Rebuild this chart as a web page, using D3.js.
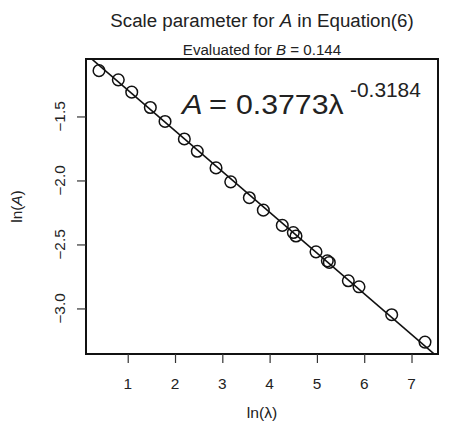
<!DOCTYPE html>
<html>
<head>
<meta charset="utf-8">
<script src="https://cdn.jsdelivr.net/npm/d3@7"></script>
<style>
  body { margin: 0; background: #fff; }
  text { font-family: "Liberation Sans", Arial, sans-serif; fill: #222; }
</style>
</head>
<body>
<div id="chart"></div>
<script>
// observed points: ln(lambda), ln(A)
const lnLambda = [0.393, 0.801, 1.085, 1.478, 1.789, 2.197, 2.471, 2.867, 3.178, 3.571,
  3.867, 4.268, 4.501, 4.558, 4.981, 5.220, 5.262, 5.664, 5.890, 6.581, 7.285];
const lnA = [-1.142, -1.214, -1.310, -1.430, -1.539, -1.676, -1.772, -1.902, -2.011, -2.135,
  -2.232, -2.351, -2.407, -2.434, -2.558, -2.628, -2.641, -2.784, -2.831, -3.049, -3.263];

// fitted power law A = a * lambda^b
const coefA = 0.3773;
const expB = -0.3184;

const xTicks = [1, 2, 3, 4, 5, 6, 7];
const yTicks = [-1.5, -2.0, -2.5, -3.0];

const width = 451, height = 435;
const margin = { top: 59, right: 13, bottom: 81, left: 86 };

const svg = d3.select("#chart").append("svg")
  .attr("width", width).attr("height", height);

const x = d3.scaleLinear().domain([0.118, 7.56])
  .range([margin.left, width - margin.right]);
const y = d3.scaleLinear().domain([-3.356, -1.051])
  .range([height - margin.bottom, margin.top]);

// text helper: horizontally stretched text, like the source image
function label(px, py, html, size, sx, anchor, rot) {
  const g = svg.append("g")
    .attr("transform", `translate(${px},${py})` + (rot ? ` rotate(${rot})` : "") + ` scale(${sx},1)`);
  return g.append("text").attr("font-size", size)
    .attr("text-anchor", anchor || "middle").html(html);
}

svg.append("clipPath").attr("id", "clip")
  .append("rect")
  .attr("x", margin.left).attr("y", margin.top)
  .attr("width", width - margin.left - margin.right)
  .attr("height", height - margin.top - margin.bottom);

// fitted line
const xd = x.domain();
const fit = xd.map(v => [v, Math.log(coefA) + expB * v]);
svg.append("path")
  .attr("clip-path", "url(#clip)")
  .attr("d", d3.line().x(d => x(d[0])).y(d => y(d[1]))(fit))
  .attr("stroke", "#111").attr("stroke-width", 1.6).attr("fill", "none");

// points
svg.append("g").selectAll("circle")
  .data(lnLambda.map((v, i) => [v, lnA[i]]))
  .join("circle")
  .attr("cx", d => x(d[0])).attr("cy", d => y(d[1]))
  .attr("r", 5.8)
  .attr("fill", "none").attr("stroke", "#111").attr("stroke-width", 1.5);

// frame
svg.append("rect")
  .attr("x", margin.left).attr("y", margin.top)
  .attr("width", width - margin.left - margin.right)
  .attr("height", height - margin.top - margin.bottom)
  .attr("fill", "none").attr("stroke", "#111").attr("stroke-width", 2);

// axes (ticks only, labels drawn below)
const xAxis = svg.append("g")
  .attr("transform", `translate(0,${height - margin.bottom})`)
  .call(d3.axisBottom(x).tickValues(xTicks).tickSize(9).tickFormat(""));
xAxis.select(".domain").remove();
xAxis.selectAll("line").attr("stroke", "#333").attr("stroke-width", 1.2);

const yAxis = svg.append("g")
  .attr("transform", `translate(${margin.left},0)`)
  .call(d3.axisLeft(y).tickValues(yTicks).tickSize(9).tickFormat(""));
yAxis.select(".domain").remove();
yAxis.selectAll("line").attr("stroke", "#333").attr("stroke-width", 1.2);

xTicks.forEach(t => label(x(t), 388.5, d3.format("d")(t), 14, 1.1));
yTicks.forEach(t => label(65, y(t), d3.format(".1f")(t), 14, 1.1, "middle", -90));

const cx = (margin.left + width - margin.right) / 2;

// titles
label(cx, 27, 'Scale parameter for <tspan font-style="italic">A</tspan> in Equation(6)', 17.8, 1.05);
label(cx, 54.5, 'Evaluated for <tspan font-style="italic">B</tspan> = 0.144', 14, 1.08);

label(cx, 418, "ln(λ)", 14, 1.12);
label(22, (margin.top + height - margin.bottom) / 2, 'ln(<tspan font-style="italic">A</tspan>)', 14, 1.1, "middle", -90);

// equation label
label(182, 113.5, '<tspan font-style="italic">A</tspan>', 28, 1.1, "start");
label(209, 113.5, "=", 28, 1.1, "start");
label(236, 113.5, coefA.toFixed(4) + "λ", 28, 1.08, "start");
label(350, 97, expB.toFixed(4), 20.5, 1.02, "start");
</script>
</body>
</html>
